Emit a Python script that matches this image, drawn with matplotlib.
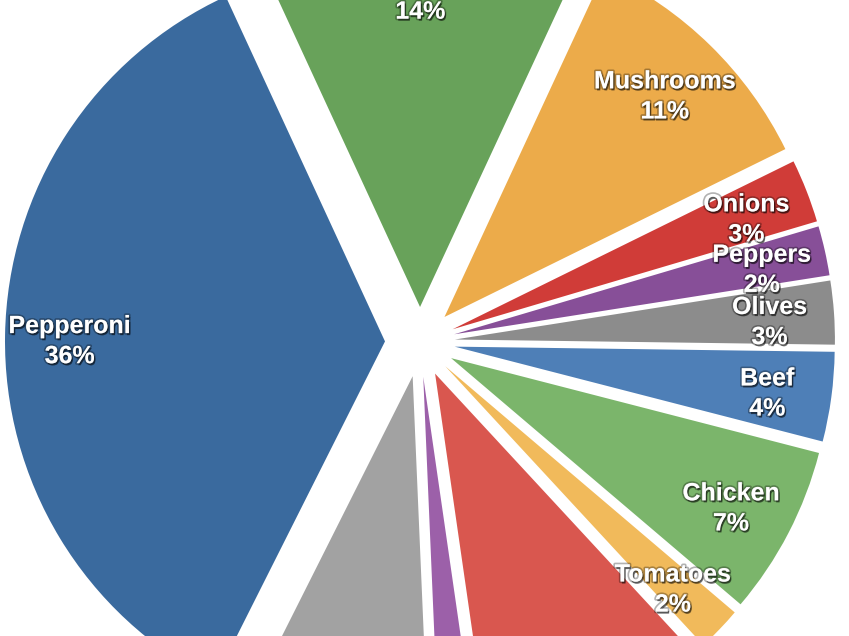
import numpy as np
import matplotlib
matplotlib.use('Agg')
import matplotlib.pyplot as plt
import matplotlib.patheffects as pe
import matplotlib.transforms as mtransforms

# slice data, clockwise from pepperoni
# '' = name cut off in the picture, None = label entirely off the picture
toppings = ['Pepperoni', '', 'Mushrooms', 'Onions', 'Peppers', 'Olives',
            'Beef', 'Chicken', 'Tomatoes', None, None, None]
shares = [35.7, 13.8, 10.8, 2.7, 2.1, 2.7, 3.8, 7.2, 1.9, 9.6, 1.6, 8.1]
colors = ['#3a6a9e', '#68a25a', '#ecab4a', '#d03c38', '#874f98', '#8c8c8c',
          '#4e7fb7', '#7bb56b', '#f1ba5b', '#d9574f', '#9c60a9', '#a2a2a2']

W, H = 849, 636
R_PX = 380.0          # pie radius in pixels
CX, CY = 420, 342     # pie centre in pixels (from top-left)

fig = plt.figure(figsize=(W / 100, H / 100), dpi=100)
ax = fig.add_axes([0, 0, 1, 1])

labels = ['' if n is None else f'{n}\n{s:.0f}%' for n, s in zip(toppings, shares)]
wedges, texts = ax.pie(
    shares,
    labels=labels,
    colors=colors,
    explode=[35 / R_PX] * len(shares),
    startangle=243.3,
    counterclock=False,
    labeldistance=0.83,
    wedgeprops=dict(linewidth=0),
)

shadow = [
    pe.SimplePatchShadow(offset=(1, -1.5), shadow_rgbFace='black', alpha=0.5),
    pe.Stroke(linewidth=2.4, foreground=(0, 0, 0, 0.3)),
    pe.Normal(),
]
# nudge labels a few pixels down, the original centres them a bit lower
nudge = mtransforms.ScaledTranslation(0, -5 / 100, fig.dpi_scale_trans)
for t in texts:
    t.set_ha('center')
    t.set_va('center')
    t.set_color('white')
    t.set_fontsize(18)
    t.set_fontweight('bold')
    t.set_family(['Liberation Sans', 'DejaVu Sans'])
    t.set_linespacing(1.32)
    t.set_path_effects(shadow)
    t.set_transform(t.get_transform() + nudge)

ax.set_xlim(-CX / R_PX, (W - CX) / R_PX)
ax.set_ylim(-(H - CY) / R_PX, CY / R_PX)
ax.set_aspect('auto')
ax.axis('off')

fig.savefig('out.png', dpi=100, facecolor='white')
